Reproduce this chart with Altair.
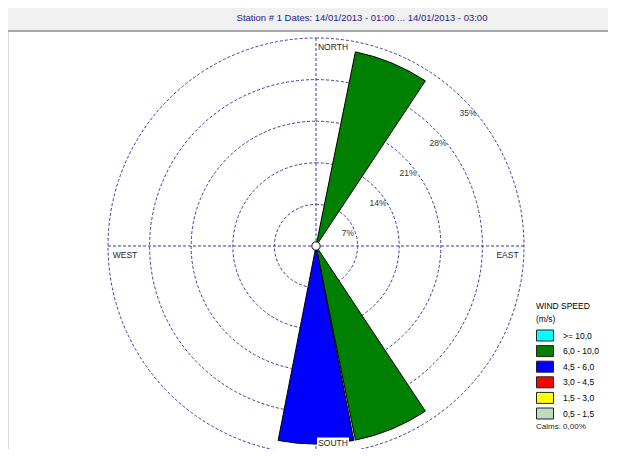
import math
import altair as alt
import pandas as pd

# ---------------- data ----------------
TITLE = "Station #   1 Dates: 14/01/2013 - 01:00 ... 14/01/2013 - 03:00"
RINGS = [7, 14, 21, 28, 35]
RING_LABELS = ["7%", "14%", "21%", "28%", "35%"]
COMPASS = ["NORTH", "EAST", "SOUTH", "WEST"]
COMPASS_DEG = [0, 90, 180, 270]
SECTOR_DIR = [22.5, 157.5, 180.0]          # sector centre direction (deg)
SECTOR_PCT = [33.33, 33.33, 33.33]         # frequency (%)
SECTOR_CLASS = ["6,0 - 10,0", "6,0 - 10,0", "4,5 -  6,0"]
CLASSES = [">= 10,0", "6,0 - 10,0", "4,5 -  6,0", "3,0 -  4,5", "1,5 -  3,0", "0,5 -  1,5"]
CLASS_COLORS = ["#00ffff", "#008000", "#0000ff", "#ff0000", "#ffff00", "#c0dcc0"]
CALMS = "Calms: 0,00%"
SECTOR_WIDTH = 22.5
MAX_PCT = 35

# ---------------- layout ----------------
W, H = 600, 441
CX, CY = 308, 238
RPIX = 208
PX = RPIX / MAX_PCT
FONT = "Liberation Sans"
DASH = "#3b3ba6"
DASHES = [3, 2]

xs = alt.Scale(domain=[-CX / PX, (W - CX) / PX], nice=False, zero=False)
ys = alt.Scale(domain=[-(H - CY) / PX, CY / PX], nice=False, zero=False)
rs = alt.Scale(type="linear", domain=[0, MAX_PCT], range=[0, RPIX], zero=True, nice=False)
ts = alt.Scale(domain=[0, 360], range=[0, 2 * math.pi], zero=True, nice=False)

one = alt.Data(values=[{}])
rings_df = pd.DataFrame({"r": RINGS, "label": RING_LABELS})
comp_df = pd.DataFrame({"name": COMPASS, "deg": COMPASS_DEG})
sect_df = pd.DataFrame({"dir": SECTOR_DIR, "pct": SECTOR_PCT, "cls": SECTOR_CLASS})

# title band
band = alt.Chart(one).mark_rect(fill="#f0f0f0").encode(
    x=alt.value(0), x2=alt.value(W), y=alt.value(0), y2=alt.value(22))
band_line = alt.Chart(one).mark_rule(stroke="#a8a8a8", strokeWidth=2).encode(
    x=alt.value(0), x2=alt.value(W), y=alt.value(23))
title = alt.Chart(one).mark_text(
    text=TITLE, font=FONT, fontSize=9.5, color="#22228a", align="center", baseline="middle"
).encode(x=alt.value(354), y=alt.value(10))

# rings
rings = alt.Chart(rings_df).mark_arc(
    filled=False, stroke=DASH, strokeWidth=1, strokeDash=DASHES
).encode(
    x=alt.XDatum(0, scale=xs, axis=None),
    y=alt.YDatum(0, scale=ys, axis=None),
    theta=alt.value(0), theta2=alt.value(2 * math.pi),
    radius=alt.Radius("r:Q", scale=rs, stack=False),
)

# cross lines
cross = alt.Chart(comp_df).transform_calculate(
    x0="0", y0="0",
    x1=f"{MAX_PCT} * sin(datum.deg * PI / 180)",
    y1=f"{MAX_PCT} * cos(datum.deg * PI / 180)",
).mark_rule(stroke=DASH, strokeWidth=1, strokeDash=DASHES).encode(
    x=alt.X("x0:Q", scale=xs, axis=None), y=alt.Y("y0:Q", scale=ys, axis=None),
    x2="x1:Q", y2="y1:Q",
)

# ring labels (along NE diagonal)
ring_labels = alt.Chart(rings_df).transform_calculate(
    lx="datum.r * 0.721", ly="datum.r * 0.721"
).mark_text(font=FONT, fontSize=8.5, color="#333333", align="center",
            baseline="middle", dx=2, dy=17).encode(
    x=alt.X("lx:Q", scale=xs, axis=None), y=alt.Y("ly:Q", scale=ys, axis=None),
    text="label:N",
)

# sectors
sectors = alt.Chart(sect_df).transform_calculate(
    t1=f"datum.dir - {SECTOR_WIDTH / 2}", t2=f"datum.dir + {SECTOR_WIDTH / 2}"
).mark_arc(stroke="black", strokeWidth=1, padAngle=0.008).encode(
    x=alt.XDatum(0, scale=xs, axis=None),
    y=alt.YDatum(0, scale=ys, axis=None),
    theta=alt.Theta("t1:Q", scale=ts, stack=False),
    theta2="t2:Q",
    radius=alt.Radius("pct:Q", scale=rs, stack=False),
    color=alt.Color(
        "cls:N",
        scale=alt.Scale(domain=CLASSES, range=CLASS_COLORS),
        legend=alt.Legend(
            title=["WIND SPEED", "(m/s)"], orient="none", legendX=528, legendY=294,
            symbolType="M-1.545,-1H1.545V1H-1.545Z", symbolSize=121, symbolOffset=3,
            symbolStrokeColor="#222222", symbolStrokeWidth=1, symbolOpacity=1,
            labelFont=FONT, labelFontSize=8.5, labelColor="black", labelOffset=12,
            titleFont=FONT, titleFontSize=8.5, titleFontWeight="normal", titleColor="black",
            titleLineHeight=13, titlePadding=6, rowPadding=-0.4,
        ),
    ),
)

center = alt.Chart(one).mark_point(
    shape="circle", filled=True, fill="white", stroke="black", strokeWidth=1, size=70, opacity=1
).encode(x=alt.XDatum(0, scale=xs, axis=None), y=alt.YDatum(0, scale=ys, axis=None))

# compass labels
OFFS = {"NORTH": (17, 9, 32), "EAST": (-16.5, 9, 27), "SOUTH": (17, -11, 32), "WEST": (17, 9, 28)}
comp_layers = []
for name, (dx, dy, bw) in OFFS.items():
    base = alt.Chart(comp_df).transform_filter(alt.datum.name == name).transform_calculate(
        px=f"{MAX_PCT} * sin(datum.deg * PI / 180)",
        py=f"{MAX_PCT} * cos(datum.deg * PI / 180)",
    ).encode(x=alt.X("px:Q", scale=xs, axis=None), y=alt.Y("py:Q", scale=ys, axis=None))
    comp_layers.append(base.mark_rect(fill="white", width=bw, height=11, xOffset=dx, yOffset=dy))
    comp_layers.append(base.mark_text(font=FONT, fontSize=8.5, color="#222222", align="center",
                                      baseline="middle", dx=dx, dy=dy).encode(text="name:N"))

calms = alt.Chart(one).mark_text(
    text=CALMS, font=FONT, fontSize=8, color="#222222", align="left", baseline="middle"
).encode(x=alt.value(528), y=alt.value(419))

chart = alt.layer(
    band, band_line, title, rings, cross, ring_labels, sectors, center, *comp_layers, calms
).properties(
    width=W, height=H, padding=0, autosize=alt.AutoSizeParams(type="none")
).configure_view(stroke=None).configure(background="white")

chart.save("out.html", embed_options={"renderer": "svg", "actions": False})
